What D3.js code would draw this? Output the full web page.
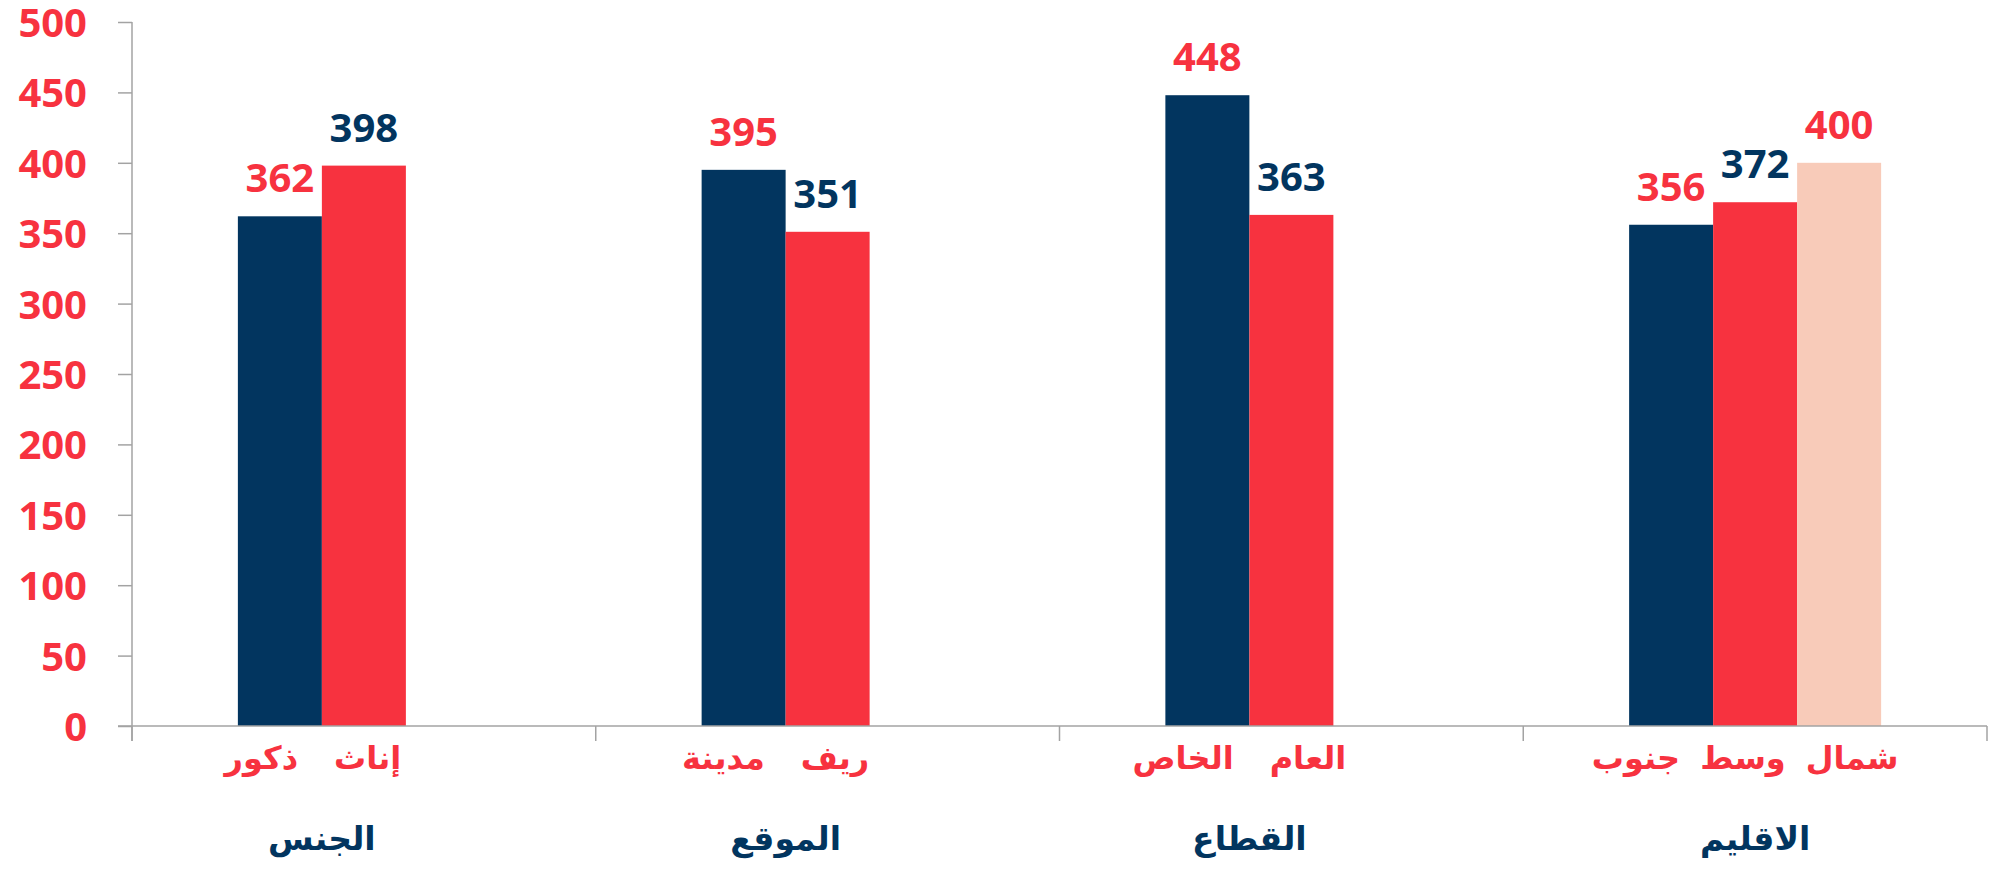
<!DOCTYPE html>
<html><head><meta charset="utf-8">
<script src="https://cdn.jsdelivr.net/npm/d3@7/dist/d3.min.js"></script>
<style>
html,body{margin:0;padding:0;background:#fff;}
svg{display:block;}
</style></head>
<body>
<svg id="chart" width="1989" height="880"></svg>
<script>
// ---- data ----
const categories = ["الجنس", "الموقع", "القطاع", "الاقليم"];
const subLabels = [["ذكور", "إناث"], ["مدينة", "ريف"], ["الخاص", "العام"], ["جنوب", "وسط", "شمال"]];
const seriesNavy = [362, 395, 448, 356];
const seriesRed = [398, 351, 363, 372];
const seriesPeach = [null, null, null, 400];
const yTicks = [0, 50, 100, 150, 200, 250, 300, 350, 400, 450, 500];

// ---- styles ----
const NAVY = "#02355F", RED = "#F7323F", PEACH = "#F8CBB9", AXIS = "#A3A3A3";
const barColors = [NAVY, RED, PEACH];
const labelColors = [RED, NAVY, RED];
const numFont = "'Open Sans', 'Liberation Sans', sans-serif";
const arFont = "'DejaVu Sans', 'Noto Sans', sans-serif";

const svg = d3.select("#chart");
const plotL = 132, plotR = 1987, plotT = 22, plotB = 726;

const pad = 0.4566;
const x = d3.scaleBand().domain(categories).range([plotL, plotR]).paddingInner(pad).paddingOuter(pad / 2);
const x1 = d3.scaleBand().domain([0, 1, 2]).range([0, x.bandwidth()]).padding(0);
const y = d3.scaleLinear().domain([0, 500]).range([plotB, plotT]);

const allSeries = [seriesNavy, seriesRed, seriesPeach];
const bars = [];
categories.forEach((c, i) => {
  allSeries.forEach((s, k) => {
    if (s[i] != null) bars.push({cat: c, i, k, v: s[i]});
  });
});
const groupCenter = (c, i) => x(c) + x1.bandwidth() * subLabels[i].length / 2;

// bars
svg.append("g").selectAll("rect").data(bars).join("rect")
  .attr("x", d => x(d.cat) + x1(d.k))
  .attr("width", x1.bandwidth())
  .attr("y", d => y(d.v))
  .attr("height", d => y(0) - y(d.v))
  .attr("fill", d => barColors[d.k]);

// y axis
const yAxis = d3.axisLeft(y).tickValues(yTicks).tickSize(14).tickSizeOuter(0).tickPadding(31);
const gy = svg.append("g").attr("transform", `translate(${plotL},0)`).call(yAxis);
gy.select(".domain").remove();
gy.selectAll(".tick line").attr("stroke", AXIS).attr("stroke-width", 1.5);
gy.selectAll(".tick text").attr("fill", RED).attr("font-family", numFont)
  .attr("font-weight", 700).attr("font-size", 40).attr("dy", "0.36em");
svg.append("line").attr("x1", plotL).attr("x2", plotL).attr("y1", y(500)).attr("y2", y(0) + 15)
  .attr("stroke", AXIS).attr("stroke-width", 1.5);

// x axis line and category separators
svg.append("line").attr("x1", plotL - 14).attr("x2", plotR).attr("y1", y(0)).attr("y2", y(0))
  .attr("stroke", AXIS).attr("stroke-width", 1.5);
const bounds = d3.range(categories.length + 1).map(j => x.range()[0] + j * x.step());
svg.append("g").selectAll("line").data(bounds).join("line")
  .attr("x1", d => d).attr("x2", d => d).attr("y1", y(0)).attr("y2", y(0) + 15)
  .attr("stroke", AXIS).attr("stroke-width", 1.5);

// value labels
svg.append("g").selectAll("text").data(bars).join("text")
  .attr("x", d => x(d.cat) + x1(d.k) + x1.bandwidth() / 2)
  .attr("y", d => y(d.v) - 24)
  .attr("text-anchor", "middle")
  .attr("font-family", numFont).attr("font-weight", 700).attr("font-size", 40)
  .attr("fill", d => labelColors[d.k])
  .text(d => d.v);

// sub labels: words laid out left to right with a gap, centred under the group
const gSub = svg.append("g");
categories.forEach((c, i) => {
  const gap = subLabels[i].length > 2 ? 20 : 36;
  const texts = subLabels[i].map(t => gSub.append("text")
    .attr("x", 0).attr("y", 769).attr("text-anchor", "start")
    .attr("font-family", arFont).attr("font-weight", 700).attr("font-size", 32)
    .attr("fill", RED).text(t));
  const boxes = texts.map(tx => tx.node().getBBox());
  const total = d3.sum(boxes, b => b.width) + gap * (boxes.length - 1);
  let cur = groupCenter(c, i) - 10 - total / 2;
  texts.forEach((tx, k) => { tx.attr("x", cur - boxes[k].x); cur += boxes[k].width + gap; });
});

// category titles, centred on the group's bars
svg.append("g").selectAll("text").data(categories).join("text")
  .attr("x", (c, i) => groupCenter(c, i))
  .attr("y", 850)
  .attr("text-anchor", "middle").attr("direction", "rtl")
  .attr("font-family", arFont).attr("font-weight", 700).attr("font-size", 33)
  .attr("fill", NAVY)
  .text(c => c);
</script>
</body></html>
